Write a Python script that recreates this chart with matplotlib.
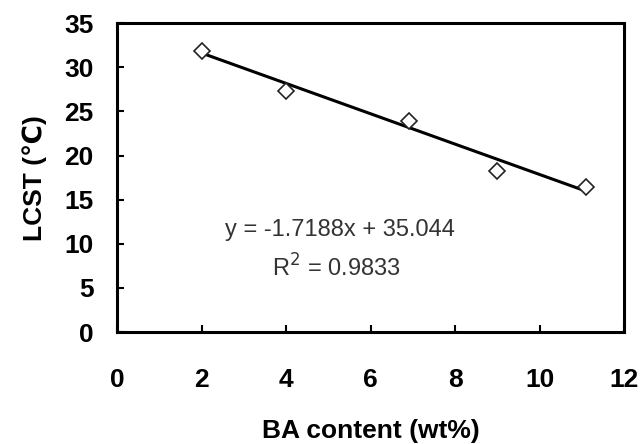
import matplotlib
matplotlib.use("Agg")
import matplotlib.pyplot as plt
import numpy as np

plt.rcParams['font.family'] = ['Liberation Sans', 'DejaVu Sans']

# Measured LCST versus BA content
ba_content = [2.0, 4.0, 6.9, 9.0, 11.1]
lcst = [31.8, 27.3, 23.9, 18.3, 16.4]

# Linear trend line
slope = -1.7188
intercept = 35.044
r_squared = 0.9833

x_ticks = [0, 2, 4, 6, 8, 10, 12]
y_ticks = [0, 5, 10, 15, 20, 25, 30, 35]

fig = plt.figure(figsize=(6.4, 4.44), dpi=100)
ax = fig.add_axes([0.183, 0.252, 0.792, 0.696])

fit_x = np.array([min(ba_content), max(ba_content)])
fit_y = slope * fit_x + intercept
ax.plot(fit_x, fit_y, color='black', lw=2.2, solid_capstyle='butt', zorder=2)
ax.plot(ba_content, lcst, linestyle='none', marker='D', markersize=8.5,
        markerfacecolor='white', markeredgecolor='#222222', markeredgewidth=1.2, zorder=3)

ax.set_xlim(0, 12)
ax.set_ylim(0, 35)
ax.set_xticks(x_ticks)
ax.set_yticks(y_ticks)
ax.set_xticklabels([str(v) for v in x_ticks], fontsize=19, fontweight='bold')
ax.set_yticklabels([str(v) for v in y_ticks], fontsize=19, fontweight='bold')
ax.tick_params(axis='x', direction='in', length=5, width=1.5, pad=26)
ax.tick_params(axis='y', direction='in', length=5, width=1.5, pad=17)

for side in ax.spines.values():
    side.set_linewidth(2.2)

ax.set_xlabel('BA content (wt%)', fontsize=19, fontweight='bold', labelpad=19)
ax.set_ylabel('LCST (\u2103)', fontsize=19, fontweight='bold', labelpad=12)

ax.text(5.27, 11.55, f'y = {slope}x + {intercept:.3f}', fontsize=17,
        color='#333333', ha='center', va='center')
ax.text(5.2, 7.25, f'R$^2$ = {r_squared}', fontsize=17,
        color='#333333', ha='center', va='center')

fig.savefig('out.png', dpi=100)
